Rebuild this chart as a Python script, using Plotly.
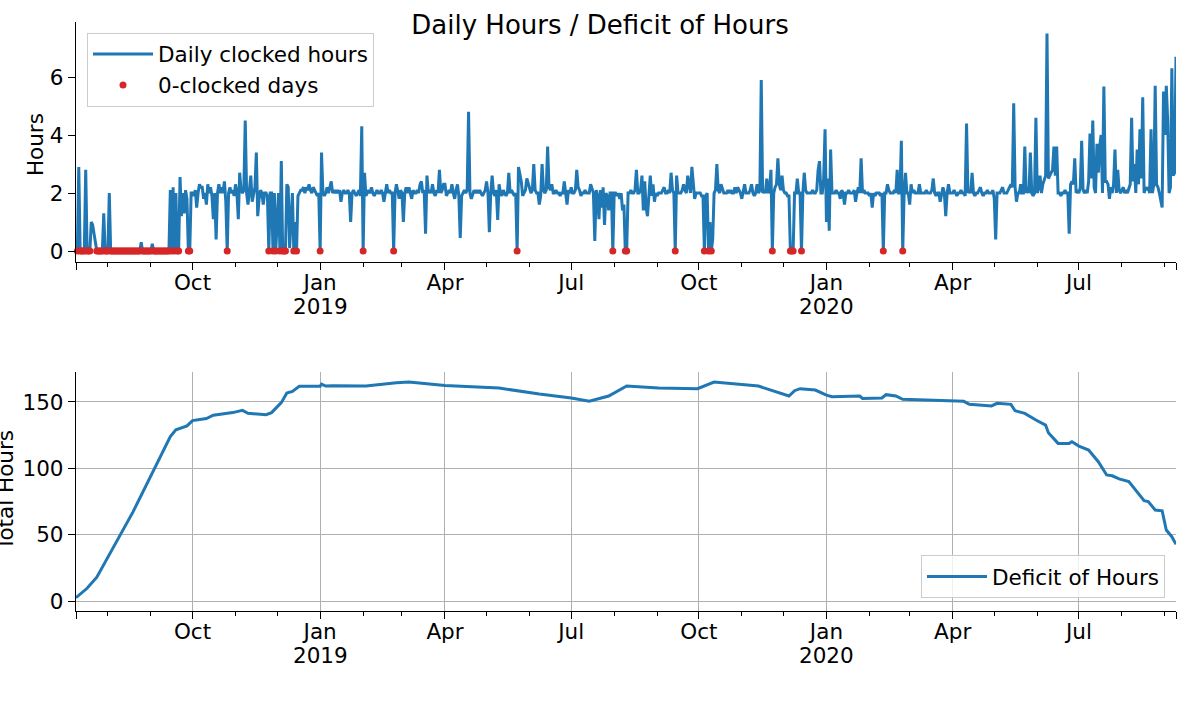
import pandas as pd
import plotly.graph_objects as go

START = "2018-07-09"
END = "2020-09-09"

# ---- daily clocked hours, one value per day, month by month ----
jul_2018 = [0.3, 0, 2.9, 0, 0, 0, 0, 2.8, 0, 0, 0, 1.0, 0.9, 0.6, 0.2, 0, 0, 0, 0, 0, 1.3, 0, 0]
aug_2018 = [0, 2.0, 0, 0, 0, 0, 0, 0, 0, 0, 0, 0, 0, 0, 0, 0, 0, 0, 0, 0, 0, 0, 0, 0, 0.3, 0, 0, 0, 0, 0, 0]
sep_2018 = [0, 0.25, 0, 0, 0, 0, 0, 0, 0, 0, 0, 0, 0, 0, 2.1, 0, 2.2, 0, 2.0, 0, 0, 2.55, 1.2, 2.0, 1.3, 2.1, 1.8, 0, 0, 2.0]
oct_2018 = [2.0, 1.9, 2.1, 1.5, 2.0, 2.3, 2.2, 2.2, 1.8, 2.0, 1.6, 2.3, 2.0, 2.2, 1.9, 1.1, 2.0, 0.4, 2.0, 2.3, 2.0, 2.2, 2.0, 2.4, 1.7, 0, 2.0, 2.2, 2.0, 2.1, 1.9]
nov_2018 = [2.3, 2.0, 1.1, 2.7, 2.1, 2.0, 2.1, 4.5, 2.0, 1.6, 2.0, 2.6, 1.7, 2.0, 2.2, 3.4, 1.2, 1.8, 2.1, 2.0, 1.6, 2.0, 2.0, 1.9, 0, 2.0, 2.0, 0, 2.0, 0]
dec_2018 = [1.3, 2.0, 0, 3.1, 0, 0, 0, 2.3, 2.2, 0.1, 1.2, 2.0, 0, 1.0, 0, 1.9, 2.0, 2.1, 2.1, 2.2, 2.0, 2.2, 2.1, 2.3, 2.1, 2.0, 2.2, 2.1, 2.0, 1.9, 2.0]
jan_2019 = [0, 3.4, 2.0, 1.9, 2.0, 2.2, 2.0, 2.2, 2.4, 2.0, 2.1, 2.0, 2.1, 2.0, 2.1, 1.7, 2.0, 2.1, 2.0, 2.0, 2.1, 2.0, 1.0, 2.0, 2.1, 2.0, 1.9, 2.0, 2.1, 1.9, 4.3]
feb_2019 = [0, 2.7, 1.9, 2.0, 2.1, 2.0, 2.2, 2.0, 1.9, 2.0, 2.1, 2.0, 2.0, 2.1, 2.0, 1.7, 2.0, 2.3, 2.0, 2.1, 2.0, 2.0, 0, 2.0, 2.3, 2.0, 1.8, 2.1]
mar_2019 = [2.0, 1.0, 2.0, 2.2, 2.0, 2.2, 2.0, 1.8, 2.1, 2.0, 2.0, 2.1, 2.0, 2.3, 2.4, 2.0, 2.1, 0.6, 2.6, 2.0, 2.1, 2.0, 2.3, 2.0, 1.9, 2.1, 2.0, 2.8, 2.0, 2.1, 2.3]
apr_2019 = [2.3, 1.9, 2.0, 2.1, 2.0, 2.3, 2.0, 1.8, 2.1, 2.3, 1.9, 0.45, 1.9, 2.0, 2.1, 2.0, 2.1, 4.8, 2.0, 1.8, 2.0, 2.1, 2.0, 2.1, 2.0, 2.1, 2.0, 1.9, 2.0, 2.1]
may_2019 = [2.4, 2.0, 0.65, 2.0, 2.6, 2.0, 1.9, 2.1, 1.07, 2.3, 2.0, 1.9, 2.1, 2.0, 1.9, 2.0, 2.7, 2.0, 2.1, 2.0, 1.9, 2.0, 0, 2.9, 2.6, 2.4, 1.9, 2.0, 2.1, 2.5, 2.3]
jun_2019 = [2.1, 2.0, 2.1, 3.0, 2.1, 2.0, 2.0, 1.6, 1.9, 3.0, 2.1, 2.0, 2.1, 3.6, 2.2, 2.1, 2.3, 2.0, 2.0, 2.1, 2.0, 2.0, 1.9, 2.0, 2.0, 2.4, 2.0, 1.6, 2.1, 2.0]
jul_2019 = [2.2, 2.0, 2.0, 2.1, 2.8, 2.2, 2.1, 1.9, 2.0, 2.0, 2.1, 2.0, 2.0, 2.0, 2.3, 2.1, 2.0, 0.35, 2.1, 1.9, 1.1, 2.1, 1.5, 2.2, 0.9, 2.0, 1.9, 1.4, 2.0, 2.0, 0]
aug_2019 = [2.0, 2.0, 1.9, 2.0, 1.8, 2.0, 1.4, 1.6, 0, 0, 2.0, 2.0, 2.1, 2.0, 2.0, 2.1, 2.8, 2.0, 2.0, 2.1, 2.6, 1.4, 2.4, 1.5, 1.2, 2.0, 2.6, 1.9, 2.3, 1.7, 2.0]
sep_2019 = [1.9, 2.0, 2.0, 2.0, 2.1, 2.2, 2.0, 2.0, 2.1, 2.0, 2.7, 2.1, 2.0, 0, 2.6, 2.0, 2.0, 2.0, 2.1, 2.3, 2.1, 2.0, 2.6, 2.2, 2.0, 2.9, 2.2, 1.8, 2.0, 2.0]
oct_2019 = [2.0, 2.0, 1.9, 1.9, 0, 1.9, 2.0, 0, 1.0, 0, 0.4, 2.0, 2.1, 3.0, 2.1, 2.0, 2.3, 2.1, 2.0, 2.0, 2.0, 2.1, 2.0, 2.1, 2.0, 2.0, 2.2, 2.0, 2.2, 2.1, 2.0]
nov_2019 = [1.8, 2.0, 2.3, 2.0, 2.0, 2.0, 2.1, 2.3, 2.0, 1.9, 2.0, 2.3, 2.0, 2.1, 5.9, 2.0, 2.1, 2.0, 2.5, 2.0, 2.1, 2.8, 0, 2.0, 2.2, 2.3, 3.2, 2.3, 2.1, 2.6]
dec_2019 = [2.1, 2.0, 2.0, 1.9, 1.9, 0, 0, 0, 2.0, 2.0, 2.5, 2.0, 2.0, 0, 2.0, 2.7, 2.1, 2.0, 2.0, 2.0, 2.0, 2.1, 2.0, 2.0, 2.1, 2.8, 3.1, 2.0, 2.0, 2.5, 4.2]
jan_2020 = [1.0, 2.5, 0.7, 3.5, 2.0, 2.0, 2.0, 2.1, 2.0, 2.0, 1.8, 2.1, 2.0, 1.6, 2.0, 2.0, 2.1, 2.0, 2.0, 2.0, 2.1, 1.7, 2.0, 2.2, 2.0, 3.2, 2.0, 2.1, 2.0, 2.0, 2.0]
feb_2020 = [1.9, 2.0, 1.5, 2.0, 1.9, 2.0, 2.0, 2.0, 1.9, 2.0, 0, 2.0, 2.0, 2.3, 2.1, 2.0, 2.0, 2.0, 2.1, 2.0, 2.8, 2.0, 2.0, 3.8, 0, 2.0, 2.7, 2.0, 2.0]
mar_2020 = [1.6, 2.3, 2.0, 2.1, 2.0, 2.0, 2.0, 2.3, 2.0, 2.0, 2.0, 2.0, 2.1, 2.0, 2.0, 2.0, 2.1, 2.5, 2.0, 1.9, 2.0, 2.0, 1.7, 2.0, 2.2, 2.0, 1.2, 2.0, 2.3, 2.0, 2.0]
apr_2020 = [2.0, 2.1, 2.0, 1.9, 2.0, 2.0, 2.1, 2.0, 2.0, 1.9, 4.4, 2.0, 2.1, 2.0, 2.7, 2.0, 1.9, 2.0, 2.0, 2.1, 2.2, 2.0, 1.9, 2.0, 2.0, 2.1, 2.0, 2.0, 2.0, 2.1]
may_2020 = [1.8, 0.4, 2.0, 2.0, 2.0, 2.1, 2.2, 2.0, 2.0, 2.0, 2.1, 2.2, 2.3, 2.2, 5.1, 2.2, 1.7, 2.0, 2.0, 2.3, 2.0, 2.0, 3.6, 2.0, 2.2, 2.0, 3.4, 2.0, 1.9, 2.0, 4.6]
jun_2020 = [2.0, 2.2, 2.6, 2.0, 2.3, 2.5, 2.6, 7.5, 2.5, 2.6, 2.7, 2.8, 3.6, 2.6, 3.6, 2.0, 2.0, 1.9, 2.0, 2.0, 2.1, 2.0, 2.0, 0.6, 2.3, 2.4, 2.3, 3.2, 2.0, 2.1]
jul_2020 = [2.0, 2.2, 3.8, 2.1, 2.0, 2.1, 2.0, 2.4, 4.05, 2.5, 4.5, 2.2, 2.0, 3.7, 2.7, 3.6, 4.0, 2.0, 5.67, 2.4, 2.4, 2.3, 1.8, 2.2, 2.0, 2.3, 3.5, 2.0, 2.8, 2.1, 2.0]
aug_2020 = [2.1, 2.2, 2.0, 2.1, 2.0, 2.2, 2.3, 4.6, 2.4, 3.0, 2.0, 3.5, 2.3, 4.2, 2.5, 5.3, 2.0, 2.2, 2.1, 2.2, 2.0, 4.2, 2.0, 2.3, 5.7, 2.3, 2.2, 2.0, 1.8, 1.5, 5.5]
sep_2020 = [4.0, 5.7, 4.5, 2.0, 2.2, 6.3, 2.6, 2.7, 6.7]

hours = (jul_2018 + aug_2018 + sep_2018 + oct_2018 + nov_2018 + dec_2018
         + jan_2019 + feb_2019 + mar_2019 + apr_2019 + may_2019 + jun_2019
         + jul_2019 + aug_2019 + sep_2019 + oct_2019 + nov_2019 + dec_2019
         + jan_2020 + feb_2020 + mar_2020 + apr_2020 + may_2020 + jun_2020
         + jul_2020 + aug_2020 + sep_2020)
days = pd.date_range(START, periods=len(hours), freq="D")
zero_days = [d for d, h in zip(days, hours) if h == 0]

# ---- running deficit of hours (read at sample days, days since START) ----
deficit_day = [0, 4, 8, 15, 25, 41, 68, 72, 80, 84, 94, 99, 113, 120, 124, 128, 137, 141, 144, 148,
               152, 156, 161, 176, 177, 180, 185, 209, 231, 240, 266, 305, 334, 357, 370, 384, 397, 420, 448, 460,
               492, 507, 514, 518, 522, 533, 541, 545, 565, 567, 581, 584, 591, 596, 615, 632, 640, 644, 660, 664,
               674, 677, 684, 692, 699, 701, 708, 716, 718, 723, 730, 737, 743, 747, 752, 759, 765, 770, 773, 778,
               783, 786, 790, 793]
deficit_total = [2.5, 5.8, 9.6, 18, 37, 67, 124, 129, 132, 136, 137.5, 140, 142, 143.7, 141.5, 141, 140.4, 142, 145.5, 149.5,
                 156.8, 158, 161.8, 161.8, 163.5, 162, 162.3, 162, 164.4, 165, 162.5, 160.5, 156, 153, 150.5, 154.5, 162, 160.5, 160, 165,
                 162, 156.5, 154.5, 158.5, 160, 159, 155.2, 154, 154.5, 152.7, 153, 155.5, 154.5, 152, 151.5, 151, 150.5, 148.2, 147, 149,
                 148.2, 143.4, 141.4, 136.4, 132.6, 126.8, 118.8, 118.8, 120, 116.8, 113.8, 105, 95, 94.4, 92, 90, 82.4, 75.6, 75, 68.6,
                 68, 53.5, 48.5, 42.7]
deficit_dates = pd.Timestamp(START) + pd.to_timedelta(deficit_day, unit="D")

# ---- ticks ----
major_ticks = [START, "2018-10-01", "2019-01-01", "2019-04-01", "2019-07-01", "2019-10-01",
               "2020-01-01", "2020-04-01", "2020-07-01", END]
major_labels = ["", "Oct", "Jan", "Apr", "Jul", "Oct", "Jan", "Apr", "Jul", ""]
year_ticks = ["2019-01-01", "2020-01-01"]
year_labels = ["2019", "2020"]
minor_ticks = ["2018-08-01", "2018-09-01", "2018-11-01", "2018-12-01", "2019-02-01", "2019-03-01",
               "2019-05-01", "2019-06-01", "2019-08-01", "2019-09-01", "2019-11-01", "2019-12-01",
               "2020-02-01", "2020-03-01", "2020-05-01", "2020-06-01", "2020-08-01", "2020-09-01"]
hours_ticks = [0, 2, 4, 6]
total_ticks = [0, 50, 100, 150]

BLUE = "#1f77b4"
RED = "#d62728"
FONT = "DejaVu Sans"
GRID = "#b0b0b0"
FS = 21.5

fig = go.Figure()
fig.add_trace(go.Scatter(x=days, y=hours, mode="lines", name="Daily clocked hours",
                         line=dict(color=BLUE, width=3), xaxis="x", yaxis="y", legend="legend"))
fig.add_trace(go.Scatter(x=zero_days, y=[0] * len(zero_days), mode="markers", name="0-clocked days",
                         marker=dict(color=RED, size=7), xaxis="x", yaxis="y", legend="legend",
                         cliponaxis=False))
fig.add_trace(go.Scatter(x=deficit_dates, y=deficit_total, mode="lines", name="Deficit of Hours",
                         line=dict(color=BLUE, width=3), xaxis="x2", yaxis="y2", legend="legend2"))


def xaxis_style(grid, anchor):
    return dict(type="date", range=[START, END], anchor=anchor,
                tickmode="array", tickvals=major_ticks, ticktext=major_labels,
                ticks="outside", ticklen=7, tickwidth=1.3, tickcolor="black", ticklabelstandoff=-6,
                showline=True, linecolor="black", linewidth=1.3, zeroline=False,
                showgrid=grid, gridcolor=GRID, gridwidth=1,
                tickfont=dict(family=FONT, size=FS, color="black"),
                minor=dict(tickmode="array", tickvals=minor_ticks, ticks="outside",
                           ticklen=4, tickwidth=1.1, tickcolor="black", showgrid=False))


def yaxis_style(grid, rng, vals, domain, anchor):
    return dict(range=rng, domain=domain, anchor=anchor, tickmode="array", tickvals=vals,
                ticks="outside", ticklen=7, tickwidth=1.3, tickcolor="black",
                showline=True, linecolor="black", linewidth=1.3, zeroline=False,
                showgrid=grid, gridcolor=GRID, gridwidth=1,
                tickfont=dict(family=FONT, size=FS, color="black"))


annotations = [
    dict(text="Hours", xref="paper", yref="paper", x=(35 - 76) / 1100, y=0.791,
         textangle=-90, showarrow=False, font=dict(family=FONT, size=FS, color="black"),
         xanchor="center", yanchor="middle"),
    dict(text="Total Hours", xref="paper", yref="paper", x=(5 - 76) / 1100, y=0.2037,
         textangle=-90, showarrow=False, font=dict(family=FONT, size=FS, color="black"),
         xanchor="center", yanchor="middle"),
]
# year line under the January ticks of both date axes
for xr, ypix in (("x", 306), ("x2", 655)):
    for yt, yl in zip(year_ticks, year_labels):
        annotations.append(dict(text=yl, x=yt, xref=xr, yref="paper", y=(611 - ypix) / 589,
                                showarrow=False, xanchor="center", yanchor="middle",
                                font=dict(family=FONT, size=FS, color="black")))

fig.update_layout(
    width=1200, height=720,
    margin=dict(l=76, r=24, t=22, b=109),
    paper_bgcolor="white", plot_bgcolor="white",
    font=dict(family=FONT, size=FS, color="black"),
    title=dict(text="Daily Hours / Deficit of Hours", x=0.5, xanchor="center", xref="container",
               y=1 - 25 / 720, yanchor="middle", yref="container",
               font=dict(family=FONT, size=26, color="black")),
    xaxis=xaxis_style(False, "y"),
    yaxis=yaxis_style(False, [-0.38, 7.9], hours_ticks, [0.5925, 1.0], "x"),
    xaxis2=xaxis_style(True, "y2"),
    yaxis2=yaxis_style(True, [-7.5, 172.6], total_ticks, [0.0, 0.4058], "x2"),
    legend=dict(x=0.01, y=0.982, xanchor="left", yanchor="top", itemwidth=60,
                bgcolor="rgba(255,255,255,0.8)", bordercolor="#cccccc", borderwidth=1,
                font=dict(family=FONT, size=FS, color="black")),
    legend2=dict(x=0.99, y=0.022, xanchor="right", yanchor="bottom", itemwidth=60,
                 bgcolor="rgba(255,255,255,0.8)", bordercolor="#cccccc", borderwidth=1,
                 font=dict(family=FONT, size=FS, color="black")),
    annotations=annotations,
    showlegend=True,
)

fig.write_html("out.html", config={"displayModeBar": False},
               post_script="document.body.style.margin='0';")
